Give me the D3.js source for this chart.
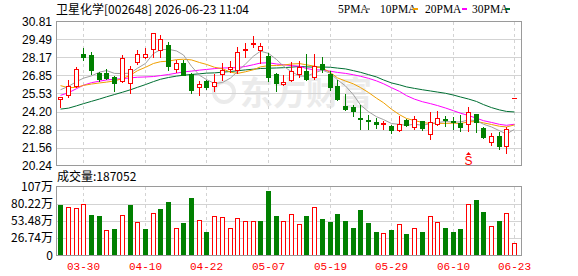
<!DOCTYPE html>
<html>
<head>
<meta charset="utf-8">
<script src="https://cdn.jsdelivr.net/npm/d3@7"></script>
<style>
  body { margin: 0; background: #fff; }
  svg { display: block; }
</style>
</head>
<body>
<svg id="chart" width="578" height="276"></svg>
<script>
// ---- data ----
const dates = ["03-25","03-26","03-27","03-30","03-31","04-01","04-02","04-03","04-07","04-08",
  "04-09","04-10","04-13","04-14","04-15","04-16","04-17","04-20","04-21","04-22",
  "04-23","04-24","04-27","04-28","04-29","04-30","05-06","05-07","05-08","05-11",
  "05-12","05-13","05-14","05-15","05-18","05-19","05-20","05-21","05-22","05-25",
  "05-26","05-27","05-28","05-29","06-01","06-02","06-03","06-04","06-05","06-08",
  "06-09","06-10","06-11","06-12","06-15","06-16","06-17","06-18","06-22","06-23"];

const openP = [25.10,25.39,26.06,28.44,28.37,27.02,27.06,26.72,26.43,26.28,
  27.83,28.22,28.81,28.69,29.11,27.36,27.78,26.97,25.98,26.47,
  26.10,26.99,27.36,27.28,28.69,29.13,28.72,28.27,26.97,26.23,
  26.50,26.97,27.21,26.72,27.71,26.97,26.06,24.58,24.53,23.70,
  23.58,23.42,23.30,23.17,22.81,23.59,23.10,23.47,22.58,23.32,
  23.68,23.48,23.37,23.32,24.01,22.98,21.99,22.41,21.67,25.19];
const highP = [25.24,26.52,27.48,28.89,28.54,27.11,27.34,26.80,28.35,27.51,
  28.69,28.89,30.00,29.80,29.33,28.00,27.95,27.04,26.47,26.54,
  26.97,27.78,27.90,28.94,29.24,29.75,29.21,28.52,27.04,26.87,
  27.85,27.90,28.44,28.44,28.20,27.17,26.50,25.49,24.65,24.65,
  23.96,23.71,23.52,23.22,23.91,23.64,23.84,23.54,24.14,24.21,
  23.91,23.79,23.96,24.51,24.01,23.03,22.66,22.73,23.10,25.19];
const lowP = [24.51,25.29,26.01,28.02,26.99,26.43,26.58,25.69,26.35,25.58,
  27.71,28.10,28.20,28.20,27.28,27.09,26.87,25.56,25.39,25.88,
  25.73,26.54,27.09,27.04,28.20,28.96,27.78,26.47,25.73,26.18,
  26.43,26.74,26.54,26.60,27.11,25.81,25.07,24.33,23.88,22.92,
  22.90,22.97,22.92,22.66,22.78,23.17,22.90,22.85,22.19,23.22,
  23.17,22.92,22.78,22.78,22.73,22.29,21.74,21.42,21.13,25.19];
const closeP = [25.24,26.10,27.34,28.17,27.24,26.62,26.67,26.30,28.13,27.36,
  28.44,28.40,29.95,29.53,27.55,27.80,26.91,25.81,26.21,26.03,
  26.35,27.24,27.48,28.57,28.81,29.26,29.01,26.72,26.30,26.38,
  27.17,27.46,26.62,27.58,27.36,25.98,25.12,24.38,24.25,23.66,
  23.54,23.27,23.34,22.81,23.32,23.22,23.64,22.98,23.44,23.69,
  23.62,23.40,23.07,24.14,23.40,22.36,22.40,21.67,22.90,25.19];
const prevClose = 25.68; // close of the day before the first candle

// volume in 万
const volume = [78.8,75.2,73.6,79.9,63.2,61.6,39.1,41.2,62.6,78.3,
  52.7,41.2,65.8,72.0,83.0,42.3,50.6,89.8,54.8,36.0,
  61.1,59.5,42.3,57.9,53.2,53.2,53.2,100.2,61.1,53.2,
  64.2,48.5,61.6,74.6,56.4,51.7,64.2,53.2,42.3,70.5,
  50.1,36.0,35.5,39.1,48.5,32.9,43.3,36.0,61.1,51.7,
  42.3,36.0,40.7,79.9,86.1,67.3,45.4,53.2,65.8,18.7];

const ma5 = [25.80,26.05,26.40,26.65,26.82,27.09,27.21,27.00,26.99,27.02,
  27.38,27.73,28.46,28.74,28.77,28.65,28.35,27.52,26.86,26.55,
  26.26,26.33,26.66,27.13,27.69,28.27,28.63,28.47,28.02,27.53,
  27.12,26.81,26.79,27.04,27.24,27.00,26.53,26.08,25.42,24.68,
  24.19,23.82,23.61,23.32,23.26,23.19,23.27,23.19,23.32,23.39,
  23.47,23.43,23.44,23.58,23.53,23.27,23.07,22.79,22.55,22.90];
const ma10 = [26.10,25.95,25.98,26.12,26.22,26.30,26.36,26.45,26.62,26.88,
  27.20,27.45,27.73,27.86,27.90,28.01,28.04,27.99,27.80,27.66,
  27.45,27.34,27.09,27.00,27.12,27.27,27.48,27.57,27.58,27.61,
  27.69,27.72,27.63,27.53,27.39,27.06,26.67,26.44,26.23,25.96,
  25.60,25.18,24.85,24.37,23.97,23.69,23.54,23.40,23.32,23.33,
  23.33,23.35,23.32,23.45,23.46,23.37,23.25,23.12,23.07,23.22];
const ma20 = [25.39,25.58,25.88,26.13,26.32,26.43,26.52,26.57,26.62,26.67,
  26.72,26.74,26.77,26.84,26.92,27.02,27.11,27.17,27.24,27.29,
  27.35,27.40,27.41,27.43,27.51,27.64,27.76,27.78,27.69,27.64,
  27.57,27.53,27.36,27.26,27.25,27.16,27.07,27.00,26.90,26.79,
  26.64,26.45,26.24,25.95,25.68,25.37,25.11,24.92,24.78,24.64,
  24.46,24.26,24.08,23.91,23.71,23.53,23.40,23.26,23.19,23.27];
const ma30 = [24.38,24.45,24.62,24.78,24.95,25.12,25.28,25.45,25.62,25.80,
  25.98,26.18,26.40,26.57,26.70,26.80,26.87,26.92,26.97,27.02,
  27.04,27.09,27.14,27.19,27.26,27.31,27.36,27.38,27.40,27.42,
  27.46,27.51,27.48,27.46,27.47,27.45,27.39,27.33,27.20,27.08,
  26.91,26.74,26.52,26.30,26.16,26.01,25.90,25.80,25.71,25.63,
  25.54,25.41,25.27,25.12,24.94,24.71,24.49,24.32,24.21,24.17];

const maNames = ["5PMA", "10PMA", "20PMA", "30PMA"];
const maColors = ["#a0a0a0", "#f0a000", "#ff00ff", "#006f33"];

const priceTicks = [30.81, 29.49, 28.17, 26.85, 25.53, 24.20, 22.88, 21.56, 20.24];
const volTicks = [0, 26.74, 53.48, 80.22, 107];
const xTickDates = ["03-30", "04-10", "04-22", "05-07", "05-19", "05-29", "06-10", "06-23"];
const signals = [{ date: "06-12", label: "S" }];

const titleText = "卫星化学[002648] 2026-06-23 11:04";
const volumeText = "成交量:187052";

// ---- layout ----
const svg = d3.select("#chart");
const left = 56.5, right = 521.5;
const priceTop = 21.5, priceBottom = 165.5;
const volTop = 186.5, volBottom = 255.5;

const red = "#ff0000", green = "#008000";
const gridColor = "#d3d3d3", borderColor = "#9a9a9a";
const numFont = "'Liberation Sans', Arial, sans-serif";
const cjkFont = "'Noto Sans CJK SC', 'Liberation Sans', sans-serif";

const xScale = d3.scaleBand().domain(dates).range([56.5, 518]).padding(0);
const cx = d => Math.round(xScale(d) + xScale.bandwidth() / 2);

const yPrice = d3.scaleLinear().domain([20.24, 30.81]).range([priceBottom, priceTop]);
const yVol = d3.scaleLinear().domain([0, 107]).range([volBottom, volTop]);

const candles = dates.map((d, i) => ({
  date: d, open: openP[i], high: highP[i], low: lowP[i], close: closeP[i],
  vol: volume[i], prev: i === 0 ? prevClose : closeP[i - 1]
}));

// title
svg.append("text")
  .attr("x", 56).attr("y", 14)
  .attr("font-family", cjkFont).attr("font-size", "12px")
  .attr("fill", "#000")
  .text(titleText);

// legend
const legendX = [338, 380, 425, 472];
const swatchX = [365, 413, 462, 505];
const legend = svg.append("g");
maNames.forEach((name, i) => {
  legend.append("text")
    .attr("x", legendX[i]).attr("y", 13)
    .attr("font-family", "'Liberation Serif', serif").attr("font-size", "11.5px")
    .attr("fill", "#000")
    .text(name);
  legend.append("rect")
    .attr("x", swatchX[i]).attr("y", 8)
    .attr("width", 5).attr("height", 2)
    .attr("fill", maColors[i]);
});

// watermark
const wm = svg.append("g");
wm.append("circle")
  .attr("cx", 224).attr("cy", 92).attr("r", 10)
  .attr("fill", "none").attr("stroke", "#ebebeb").attr("stroke-width", 4);
wm.append("text")
  .attr("x", 240).attr("y", 105)
  .attr("font-family", cjkFont).attr("font-size", "33px").attr("font-weight", "bold")
  .attr("fill", "#ebebeb")
  .text("东方财富");

// gridlines
const grid = svg.append("g").attr("shape-rendering", "crispEdges");
grid.selectAll(".hp").data(priceTicks.slice(1, -1)).enter().append("line")
  .attr("x1", left).attr("x2", right)
  .attr("y1", d => Math.round(yPrice(d)) + 0.5).attr("y2", d => Math.round(yPrice(d)) + 0.5)
  .attr("stroke", gridColor);
grid.selectAll(".hv").data(volTicks.slice(1, -1)).enter().append("line")
  .attr("x1", left).attr("x2", right)
  .attr("y1", d => Math.round(yVol(d)) + 0.5).attr("y2", d => Math.round(yVol(d)) + 0.5)
  .attr("stroke", gridColor);
[[priceTop, priceBottom], [volTop, volBottom]].forEach(([t, b]) => {
  grid.selectAll(null).data(xTickDates).enter().append("line")
    .attr("x1", d => cx(d) + 0.5).attr("x2", d => cx(d) + 0.5)
    .attr("y1", t).attr("y2", b)
    .attr("stroke", gridColor).attr("stroke-dasharray", "3,3");
});

// price axis labels
svg.append("g").selectAll("text").data(priceTicks).enter().append("text")
  .attr("x", 52).attr("y", d => yPrice(d))
  .attr("dy", "0.35em").attr("text-anchor", "end")
  .attr("font-family", numFont).attr("font-size", "12px").attr("fill", "#000")
  .text(d => d.toFixed(2));

// volume axis labels
svg.append("g").selectAll("text").data(volTicks).enter().append("text")
  .attr("x", 53).attr("y", d => yVol(d))
  .attr("dy", "0.35em").attr("text-anchor", "end")
  .attr("font-family", cjkFont).attr("font-size", "12px").attr("fill", "#000")
  .text(d => d === 0 ? "0" : d3.format("~f")(d) + "万");

// volume title
svg.append("text")
  .attr("x", 57).attr("y", 181)
  .attr("font-family", cjkFont).attr("font-size", "12px").attr("fill", "#000")
  .text(volumeText);

// x labels
svg.append("g").selectAll("text").data(xTickDates).enter().append("text")
  .attr("x", d => cx(d) + 0.5).attr("y", 270)
  .attr("text-anchor", "middle")
  .attr("font-family", "'Liberation Mono', monospace").attr("font-size", "11px")
  .attr("fill", red)
  .text(d => d);

// MA lines
const maSeries = [ma5, ma10, ma20, ma30];
const maLine = d3.line()
  .x((v, i) => cx(dates[i]) + 0.5)
  .y(v => yPrice(v));
maSeries.slice().reverse().forEach((s, k) => {
  const i = maSeries.length - 1 - k;
  svg.append("path")
    .attr("d", maLine(s))
    .attr("fill", "none")
    .attr("stroke", maColors[i])
    .attr("stroke-width", 1);
});

// candles
const cg = svg.append("g").attr("shape-rendering", "crispEdges");
const candle = cg.selectAll("g").data(candles).enter().append("g");
candle.append("line")
  .attr("x1", d => cx(d.date) + 0.5).attr("x2", d => cx(d.date) + 0.5)
  .attr("y1", d => Math.round(yPrice(d.high))).attr("y2", d => Math.round(yPrice(d.low)) + 1)
  .attr("stroke", d => d.close >= d.open ? red : green);
candle.each(function (d) {
  const g = d3.select(this);
  const c = cx(d.date);
  const top = Math.round(yPrice(Math.max(d.open, d.close)));
  const bot = Math.round(yPrice(Math.min(d.open, d.close)));
  if (d.close >= d.open) {
    if (bot - top < 1) {
      g.append("line")
        .attr("x1", c - 2).attr("x2", c + 3)
        .attr("y1", top + 0.5).attr("y2", top + 0.5)
        .attr("stroke", red);
    } else {
      g.append("rect")
        .attr("x", c - 1.5).attr("y", top + 0.5)
        .attr("width", 4).attr("height", bot - top)
        .attr("fill", "#fff").attr("stroke", red);
    }
  } else {
    g.append("rect")
      .attr("x", c - 2).attr("y", top)
      .attr("width", 5).attr("height", Math.max(bot - top, 1) + 1)
      .attr("fill", green);
  }
});

// signal markers
const sg = svg.append("g");
signals.forEach(s => {
  const c = cx(s.date) + 0.5;
  sg.append("path")
    .attr("d", `M${c},152 L${c - 2.5},155 L${c + 2.5},155 Z`)
    .attr("fill", red);
  sg.append("text")
    .attr("x", c).attr("y", 164.5)
    .attr("text-anchor", "middle")
    .attr("font-family", numFont).attr("font-size", "12px")
    .attr("fill", red)
    .text(s.label);
});

// volume bars
const vg = svg.append("g").attr("shape-rendering", "crispEdges");
candles.forEach(d => {
  const c = cx(d.date);
  const up = d.close > d.prev;
  const top = Math.round(yVol(d.vol));
  const bot = Math.round(yVol(0));
  if (up) {
    vg.append("rect")
      .attr("x", c - 1.5).attr("y", top + 0.5)
      .attr("width", 4).attr("height", bot - top - 1)
      .attr("fill", "#fff").attr("stroke", red);
  } else {
    vg.append("rect")
      .attr("x", c - 2).attr("y", top)
      .attr("width", 5).attr("height", bot - top)
      .attr("fill", green);
  }
});

// panel borders
const bg = svg.append("g").attr("shape-rendering", "crispEdges");
[[priceTop, priceBottom], [volTop, volBottom]].forEach(([t, b]) => {
  bg.append("rect")
    .attr("x", left).attr("y", t)
    .attr("width", right - left).attr("height", b - t)
    .attr("fill", "none").attr("stroke", borderColor);
});
</script>
</body>
</html>
